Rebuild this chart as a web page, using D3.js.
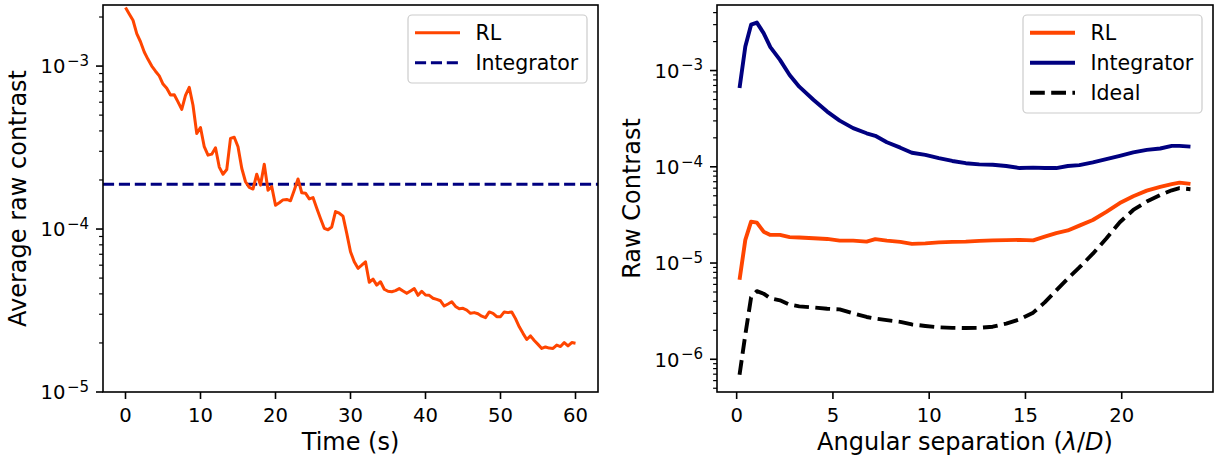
<!DOCTYPE html>
<html>
<head>
<meta charset="utf-8">
<script src="https://cdn.jsdelivr.net/npm/d3@7"></script>
<style>
  body { margin: 0; background: #fff; }
  svg text { font-family: "DejaVu Sans", sans-serif; fill: #000; }
</style>
</head>
<body>
<div id="chart"></div>
<script>
// ---- data ----
// left panel: average raw contrast over time
var timeSec = [0, 0.5, 1, 1.5, 2, 2.5, 3, 3.5, 4, 4.5, 5, 5.5, 6, 6.5, 7, 7.5, 8, 8.5, 9, 9.5,
    10, 10.5, 11, 11.5, 12, 12.5, 13, 13.5, 14, 14.5, 15, 15.5, 16, 16.5, 17, 17.5, 18, 18.5, 19, 19.5,
    20, 20.5, 21, 21.5, 22, 22.5, 23, 23.5, 24, 24.5, 25, 25.5, 26, 26.5, 27, 27.5, 28, 28.5, 29, 29.5,
    30, 30.5, 31, 31.5, 32, 32.5, 33, 33.5, 34, 34.5, 35, 35.5, 36, 36.5, 37, 37.5, 38, 38.5, 39, 39.5,
    40, 40.5, 41, 41.5, 42, 42.5, 43, 43.5, 44, 44.5, 45, 45.5, 46, 46.5, 47, 47.5, 48, 48.5, 49, 49.5,
    50, 50.5, 51, 51.5, 52, 52.5, 53, 53.5, 54, 54.5, 55, 55.5, 56, 56.5, 57, 57.5, 58, 58.5, 59, 59.5, 60];
var rlTimeContrast = [2.29e-3, 2.09e-3, 1.91e-3, 1.58e-3, 1.41e-3, 1.22e-3, 1.10e-3, 1.0e-3, 9.3e-4, 8.7e-4,
    7.76e-4, 7.3e-4, 6.64e-4, 6.67e-4, 6.03e-4, 5.42e-4, 6.6e-4, 7.4e-4, 5.75e-4, 3.86e-4,
    4.2e-4, 3.2e-4, 2.84e-4, 2.88e-4, 3.15e-4, 2.4e-4, 2.17e-4, 2.32e-4, 3.6e-4, 3.66e-4,
    3.2e-4, 2.36e-4, 1.95e-4, 1.8e-4, 1.76e-4, 2.17e-4, 1.86e-4, 2.5e-4, 1.73e-4, 1.82e-4,
    1.40e-4, 1.45e-4, 1.51e-4, 1.52e-4, 1.49e-4, 1.73e-4, 2.03e-4, 1.67e-4, 1.66e-4, 1.53e-4,
    1.56e-4, 1.34e-4, 1.16e-4, 1.01e-4, 9.9e-5, 1.03e-4, 1.28e-4, 1.25e-4, 1.2e-4, 9.4e-5,
    7.26e-5, 6.3e-5, 5.74e-5, 6.0e-5, 6.3e-5, 4.71e-5, 4.93e-5, 4.53e-5, 4.75e-5, 4.27e-5,
    4.15e-5, 4.12e-5, 4.19e-5, 4.31e-5, 4.17e-5, 4.03e-5, 4.17e-5, 4.31e-5, 3.92e-5, 4.15e-5,
    3.94e-5, 3.92e-5, 3.76e-5, 3.70e-5, 3.63e-5, 3.37e-5, 3.47e-5, 3.58e-5, 3.35e-5, 3.24e-5,
    3.26e-5, 3.18e-5, 3.04e-5, 3.07e-5, 3.02e-5, 2.92e-5, 2.86e-5, 3.10e-5, 3.04e-5, 2.90e-5,
    2.90e-5, 3.10e-5, 3.07e-5, 3.10e-5, 2.82e-5, 2.51e-5, 2.29e-5, 2.10e-5, 2.21e-5, 2.07e-5,
    1.96e-5, 1.85e-5, 1.89e-5, 1.86e-5, 1.85e-5, 1.94e-5, 1.90e-5, 2.01e-5, 1.92e-5, 2.01e-5, 1.99e-5];
var integratorTimeContrast = 1.88e-4;

// right panel: raw contrast vs angular separation
var separation = [0.15, 0.45, 0.75, 1.05, 1.4, 1.75, 2.25, 2.75, 3.25, 4.0, 4.7, 5.35, 6.05, 6.75, 7.2,
    7.8, 8.5, 9.1, 9.8, 10.5, 11.2, 11.9, 12.6, 13.3, 14.0, 14.7, 15.4, 16.0, 16.6, 17.2, 17.8,
    18.5, 19.2, 19.9, 20.6, 21.3, 22.0, 22.6, 23.0, 23.57];
var rlSepContrast = [6.7e-6, 1.74e-5, 2.69e-5, 2.63e-5, 2.12e-5, 1.96e-5, 1.96e-5, 1.86e-5, 1.84e-5, 1.81e-5,
    1.78e-5, 1.71e-5, 1.71e-5, 1.67e-5, 1.77e-5, 1.71e-5, 1.66e-5, 1.58e-5, 1.6e-5, 1.64e-5,
    1.66e-5, 1.67e-5, 1.7e-5, 1.72e-5, 1.73e-5, 1.74e-5, 1.72e-5, 1.88e-5, 2.05e-5, 2.18e-5,
    2.45e-5, 2.8e-5, 3.4e-5, 4.2e-5, 4.95e-5, 5.65e-5, 6.2e-5, 6.6e-5, 6.85e-5, 6.64e-5];
var integratorSepContrast = [6.6e-4, 1.78e-3, 3.0e-3, 3.15e-3, 2.45e-3, 1.75e-3, 1.29e-3, 9.0e-4, 6.8e-4, 4.95e-4,
    3.75e-4, 3.02e-4, 2.52e-4, 2.23e-4, 2.1e-4, 1.8e-4, 1.58e-4, 1.4e-4, 1.33e-4, 1.23e-4,
    1.15e-4, 1.09e-4, 1.06e-4, 1.05e-4, 1.02e-4, 9.7e-5, 9.8e-5, 9.7e-5, 9.7e-5, 1.02e-4,
    1.04e-4, 1.11e-4, 1.2e-4, 1.3e-4, 1.41e-4, 1.5e-4, 1.55e-4, 1.65e-4, 1.65e-4, 1.62e-4];
var idealSepContrast = [6.9e-7, 1.8e-6, 4.4e-6, 5.1e-6, 4.8e-6, 4.3e-6, 4.1e-6, 3.7e-6, 3.55e-6, 3.45e-6,
    3.35e-6, 3.3e-6, 3.0e-6, 2.75e-6, 2.65e-6, 2.55e-6, 2.45e-6, 2.3e-6, 2.22e-6, 2.15e-6,
    2.12e-6, 2.11e-6, 2.12e-6, 2.18e-6, 2.35e-6, 2.6e-6, 3.05e-6, 3.9e-6, 5.2e-6, 6.9e-6,
    9.0e-6, 1.25e-5, 1.8e-5, 2.65e-5, 3.56e-5, 4.35e-5, 5.1e-5, 5.7e-5, 6.0e-5, 5.85e-5];

var timeTicks = [0, 10, 20, 30, 40, 50, 60];
var sepTicks = [0, 5, 10, 15, 20];

// ---- layout ----
var svgWidth = 1214;
var svgHeight = 462;
var orange = "#ff4500";
var navy = "#000080";
var tickFont = 19.6;
var labelFont = 24;
var legendFont = 20.5;

var svg = d3.select("#chart")
    .append("svg")
    .attr("width", svgWidth)
    .attr("height", svgHeight);

// axes boxes in pixels
var leftBox = { x0: 103, x1: 598, y0: 5, y1: 392 };
var rightBox = { x0: 717, x1: 1213, y0: 5, y1: 392 };

// scales
var xLeft = d3.scaleLinear().domain([-3, 63]).range([leftBox.x0, leftBox.x1]);
var yLeft = d3.scaleLog().domain([1e-5, 2.37e-3]).range([leftBox.y1, leftBox.y0]);

var sepMin = d3.min(separation), sepMax = d3.max(separation);
var sepPad = (sepMax - sepMin) * 0.05;
var xRight = d3.scaleLinear().domain([sepMin - sepPad, sepMax + sepPad]).range([rightBox.x0, rightBox.x1]);
var yRight = d3.scaleLog().domain([4.57e-7, 4.8e-3]).range([rightBox.y1, rightBox.y0]);

// draws spines, ticks and tick labels for one panel
function drawAxes(box, xScale, yScale, xTicks) {
    var g = svg.append("g");

    // x ticks
    xTicks.forEach(function(t) {
        var px = xScale(t);
        g.append("line")
            .attr("x1", px).attr("x2", px)
            .attr("y1", box.y1).attr("y2", box.y1 + 7)
            .attr("stroke", "#000").attr("stroke-width", 1.6);
        g.append("text")
            .attr("x", px)
            .attr("y", box.y1 + 29.5)
            .attr("text-anchor", "middle")
            .attr("font-size", tickFont)
            .text(t);
    });

    // y ticks, log scale: majors at decades, minors at 2..9
    var dom = yScale.domain();
    var lo = Math.floor(Math.log10(dom[0]));
    var hi = Math.ceil(Math.log10(dom[1]));
    for (var e = lo; e <= hi; e++) {
        for (var m = 1; m <= 9; m++) {
            var v = m * Math.pow(10, e);
            if (v < dom[0] * 0.999 || v > dom[1] * 1.001) continue;
            var py = yScale(v);
            var major = (m === 1);
            g.append("line")
                .attr("x1", box.x0 - (major ? 7 : 3.9)).attr("x2", box.x0)
                .attr("y1", py).attr("y2", py)
                .attr("stroke", "#000")
                .attr("stroke-width", major ? 1.6 : 1.2);
            if (major) {
                var lab = g.append("text")
                    .attr("x", box.x0 - 14)
                    .attr("y", py + 7.3)
                    .attr("text-anchor", "end")
                    .attr("font-size", tickFont);
                lab.append("tspan").text("10");
                lab.append("tspan")
                    .attr("font-size", 15)
                    .attr("dx", 1.5)
                    .attr("dy", -7.5)
                    .text("\u2212" + Math.abs(e));
            }
        }
    }

    // spines
    g.append("rect")
        .attr("x", box.x0).attr("y", box.y0)
        .attr("width", box.x1 - box.x0)
        .attr("height", box.y1 - box.y0)
        .attr("fill", "none")
        .attr("stroke", "#000")
        .attr("stroke-width", 1.6);
}

function addClip(id, box) {
    svg.append("clipPath").attr("id", id)
        .append("rect")
        .attr("x", box.x0).attr("y", box.y0)
        .attr("width", box.x1 - box.x0)
        .attr("height", box.y1 - box.y0);
}

function drawLegend(box, items) {
    var g = svg.append("g");
    g.append("rect")
        .attr("x", box.x).attr("y", box.y)
        .attr("width", box.w).attr("height", box.h)
        .attr("rx", 4).attr("ry", 4)
        .attr("fill", "#fff").attr("fill-opacity", 0.8)
        .attr("stroke", "#cccccc").attr("stroke-width", 1.2);
    items.forEach(function(it, i) {
        var cy = box.y + 17.7 + i * 30;
        g.append("line")
            .attr("x1", box.x + 7).attr("x2", box.x + 52)
            .attr("y1", cy).attr("y2", cy)
            .attr("stroke", it.color)
            .attr("stroke-width", it.width)
            .attr("stroke-dasharray", it.dash || null);
        g.append("text")
            .attr("x", box.x + 67.5)
            .attr("y", cy + 7.4)
            .attr("font-size", legendFont)
            .text(it.name);
    });
}

// ---- left panel ----
addClip("clipLeft", leftBox);

var leftLine = d3.line()
    .x(function(d, i) { return xLeft(timeSec[i]); })
    .y(function(d) { return yLeft(d); });

svg.append("line")
    .attr("clip-path", "url(#clipLeft)")
    .attr("x1", leftBox.x0).attr("x2", leftBox.x1)
    .attr("y1", yLeft(integratorTimeContrast))
    .attr("y2", yLeft(integratorTimeContrast))
    .attr("stroke", navy)
    .attr("stroke-width", 3)
    .attr("stroke-dasharray", "11.1,4.8");

svg.append("path")
    .datum(rlTimeContrast)
    .attr("clip-path", "url(#clipLeft)")
    .attr("d", leftLine)
    .attr("fill", "none")
    .attr("stroke", orange)
    .attr("stroke-width", 3)
    .attr("stroke-linejoin", "round");

drawAxes(leftBox, xLeft, yLeft, timeTicks);

svg.append("text")
    .attr("x", (leftBox.x0 + leftBox.x1) / 2)
    .attr("y", 450)
    .attr("text-anchor", "middle")
    .attr("font-size", labelFont)
    .text("Time (s)");

svg.append("text")
    .attr("transform", "translate(26," + (leftBox.y0 + leftBox.y1) / 2 + ") rotate(-90)")
    .attr("text-anchor", "middle")
    .attr("font-size", labelFont)
    .text("Average raw contrast");

drawLegend({ x: 408, y: 15, w: 179, h: 68 }, [
    { name: "RL", color: orange, width: 3 },
    { name: "Integrator", color: navy, width: 3, dash: "11.1,4.8" }
]);

// ---- right panel ----
addClip("clipRight", rightBox);

function sepLine(values) {
    return d3.line()
        .x(function(d, i) { return xRight(separation[i]); })
        .y(function(d) { return yRight(d); })(values);
}

var rightSeries = [
    { values: rlSepContrast, color: orange, dash: null },
    { values: integratorSepContrast, color: navy, dash: null },
    { values: idealSepContrast, color: "#000", dash: "14.8,6.4" }
];

rightSeries.forEach(function(s) {
    svg.append("path")
        .attr("clip-path", "url(#clipRight)")
        .attr("d", sepLine(s.values))
        .attr("fill", "none")
        .attr("stroke", s.color)
        .attr("stroke-width", 3.9)
        .attr("stroke-linejoin", "round")
        .attr("stroke-dasharray", s.dash);
});

drawAxes(rightBox, xRight, yRight, sepTicks);

var xlab = svg.append("text")
    .attr("x", (rightBox.x0 + rightBox.x1) / 2)
    .attr("y", 450)
    .attr("text-anchor", "middle")
    .attr("font-size", labelFont);
xlab.append("tspan").text("Angular separation (");
xlab.append("tspan").attr("font-style", "italic").text("\u03bb");
xlab.append("tspan").text("/");
xlab.append("tspan").attr("font-style", "italic").text("D");
xlab.append("tspan").text(")");

svg.append("text")
    .attr("transform", "translate(640," + (rightBox.y0 + rightBox.y1) / 2 + ") rotate(-90)")
    .attr("text-anchor", "middle")
    .attr("font-size", labelFont)
    .text("Raw Contrast");

drawLegend({ x: 1023, y: 15, w: 179, h: 98 }, [
    { name: "RL", color: orange, width: 3.9 },
    { name: "Integrator", color: navy, width: 3.9 },
    { name: "Ideal", color: "#000", width: 3.9, dash: "14.8,6.4" }
]);
</script>
</body>
</html>
